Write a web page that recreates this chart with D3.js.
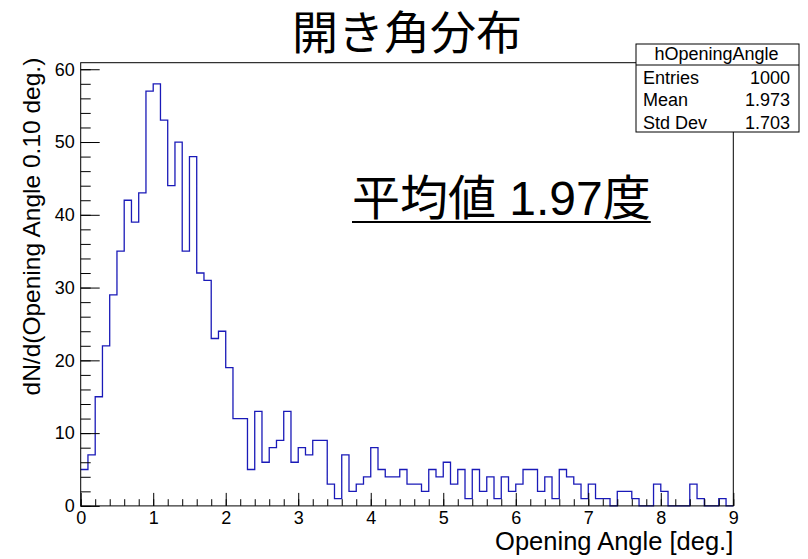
<!DOCTYPE html>
<html><head><meta charset="utf-8">
<script src="https://cdn.jsdelivr.net/npm/d3@7"></script>
<style>body{margin:0;background:#fff} svg{display:block}</style>
</head><body><svg id="c" width="808" height="559"></svg>
<script>
const title = "開き角分布";
const xLabel = "Opening Angle [deg.]";
const yLabel = "dN/d(Opening Angle 0.10 deg.)";
const annotation = "平均値 1.97度";
const histName = "hOpeningAngle";
const statNames = ["Entries", "Mean", "Std Dev"];
const statValues = ["1000", "1.973", "1.703"];
const xMin = 0, xMax = 9, binWidth = 0.1, yMax = 60.9;
const counts = [
  5, 7, 15, 22, 29, 35, 42, 39, 43, 57,
  58, 53, 44, 50, 35, 48, 32, 31, 23, 24,
  19, 12, 12, 5, 13, 6, 8, 9, 13, 6,
  8, 7, 9, 9, 3, 1, 7, 2, 3, 4,
  8, 5, 4, 4, 5, 3, 3, 2, 5, 4,
  6, 3, 5, 1, 5, 2, 4, 1, 4, 2,
  3, 5, 5, 2, 4, 1, 5, 4, 3, 1,
  3, 1, 1, 0, 2, 2, 1, 0, 0, 3,
  2, 0, 0, 0, 3, 1, 0, 0, 1, 0
];
const xTicks = [0, 1, 2, 3, 4, 5, 6, 7, 8, 9];
const yTicks = [0, 10, 20, 30, 40, 50, 60];

const svg = d3.select("#c");
const L = 80.7, R = 733.3, T = 62.7, B = 505.9;
const x = d3.scaleLinear().domain([xMin, xMax]).range([L, R]);
const y = d3.scaleLinear().domain([0, yMax]).range([B, T]);
const font = "'Liberation Sans', Arial, Helvetica, sans-serif";
const cjk = "'Liberation Sans', 'Noto Sans CJK JP', sans-serif";

// histogram step line
const pts = counts.map((c, i) => [xMin + i * binWidth, c]);
pts.push([xMax, counts[counts.length - 1]]);
svg.append("path")
  .attr("d", d3.line().x(d => x(d[0])).y(d => y(d[1])).curve(d3.curveStepAfter)(pts))
  .attr("fill", "none").attr("stroke", "#1a1ab8").attr("stroke-width", 1.3);

// minor ticks
const xMinor = d3.range(0, 46).map(i => i * 0.2).filter(v => v <= xMax + 1e-9);
const yMinor = d3.range(0, 31).map(i => i * 2).filter(v => v <= yMax);
svg.append("g").attr("transform", `translate(0,${B})`)
  .call(d3.axisBottom(x).tickValues(xMinor).tickSize(-6.7).tickFormat(""))
  .call(g => g.select(".domain").remove());
svg.append("g").attr("transform", `translate(${L},0)`)
  .call(d3.axisLeft(y).tickValues(yMinor).tickSize(-10).tickFormat(""))
  .call(g => g.select(".domain").remove());

// major axes
const xa = svg.append("g").attr("transform", `translate(0,${B})`)
  .call(d3.axisBottom(x).tickValues(xTicks).tickSize(-13).tickPadding(5).tickFormat(d3.format("d")))
  .call(g => g.select(".domain").remove());
xa.selectAll("text").attr("font-family", font).attr("font-size", 18).attr("fill", "#000").attr("dy", "0.72em");
const ya = svg.append("g").attr("transform", `translate(${L},0)`)
  .call(d3.axisLeft(y).tickValues(yTicks).tickSize(-19).tickPadding(6).tickFormat(d3.format("d")))
  .call(g => g.select(".domain").remove());
ya.selectAll("text").attr("font-family", font).attr("font-size", 18).attr("fill", "#000");
svg.selectAll(".tick line").attr("stroke", "#000");

// frame
svg.append("rect").attr("x", L).attr("y", T).attr("width", R - L).attr("height", B - T)
  .attr("fill", "none").attr("stroke", "#000").attr("stroke-width", 1);

// title
svg.append("text").attr("x", 407).attr("y", 48.5).attr("text-anchor", "middle")
  .attr("font-family", "'Noto Sans CJK JP', sans-serif").attr("font-size", 46).text(title);

// axis titles
svg.append("text").attr("x", R).attr("y", 550).attr("text-anchor", "end")
  .attr("font-family", font).attr("font-size", 25.5).text(xLabel);
svg.append("text").attr("transform", `translate(40,${T - 5}) rotate(-90)`).attr("text-anchor", "end")
  .attr("font-family", font).attr("font-size", 24.5).text(yLabel);

// annotation
const ann = svg.append("text").attr("x", 352).attr("y", 215)
  .attr("font-family", cjk).attr("font-size", 48).text(annotation);
const bb = ann.node().getBBox();
svg.append("line").attr("x1", bb.x).attr("x2", bb.x + bb.width).attr("y1", 222).attr("y2", 222)
  .attr("stroke", "#000").attr("stroke-width", 2);

// stats box
const sx = 636, sy = 44, sw = 163, sh = 88, hh = 21;
const sb = svg.append("g");
sb.append("rect").attr("x", sx).attr("y", sy).attr("width", sw).attr("height", sh)
  .attr("fill", "#fff").attr("stroke", "#000");
sb.append("line").attr("x1", sx).attr("x2", sx + sw).attr("y1", sy + hh).attr("y2", sy + hh).attr("stroke", "#000");
sb.append("text").attr("x", sx + sw / 2 - 1).attr("y", sy + 15.5).attr("text-anchor", "middle")
  .attr("font-family", font).attr("font-size", 18).text(histName);
statNames.forEach((n, i) => {
  const yy = sy + hh + 18.5 + i * 22.5;
  sb.append("text").attr("x", sx + 7).attr("y", yy).attr("font-family", font).attr("font-size", 18).text(n);
  sb.append("text").attr("x", sx + sw - 9).attr("y", yy).attr("text-anchor", "end")
    .attr("font-family", font).attr("font-size", 18).text(statValues[i]);
});
</script></body></html>
